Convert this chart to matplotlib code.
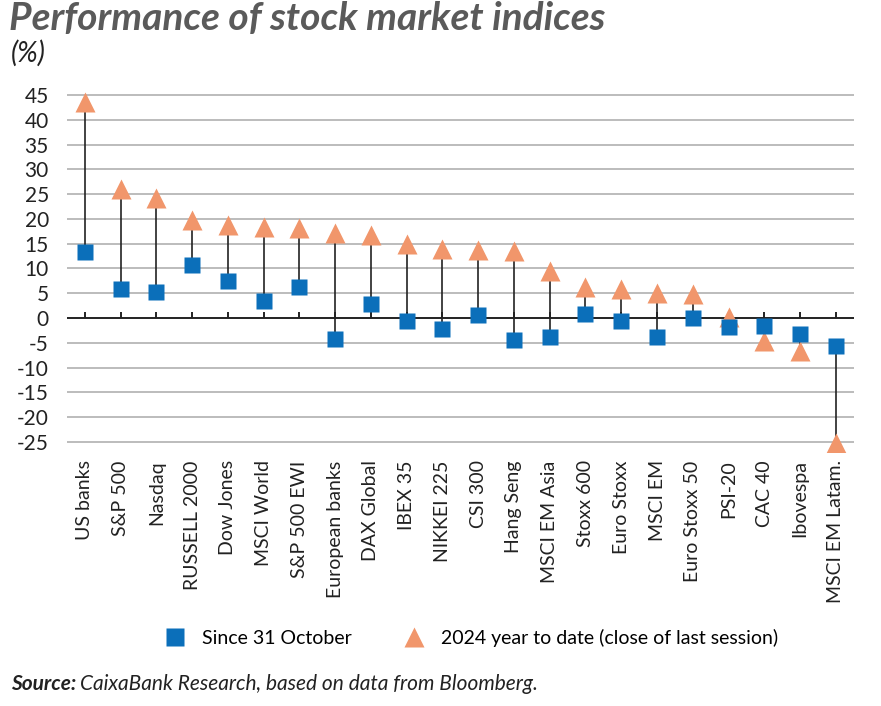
import numpy as np
import matplotlib
matplotlib.use('Agg')
import matplotlib.pyplot as plt
from matplotlib.lines import Line2D

plt.rcParams['font.family'] = ['Lato', 'DejaVu Sans']

indices = ['US banks', 'S&P 500', 'Nasdaq', 'RUSSELL 2000', 'Dow Jones', 'MSCI World',
           'S&P 500 EWI', 'European banks', 'DAX Global', 'IBEX 35', 'NIKKEI 225', 'CSI 300',
           'Hang Seng', 'MSCI EM Asia', 'Stoxx 600', 'Euro Stoxx', 'MSCI EM', 'Euro Stoxx 50',
           'PSI-20', 'CAC 40', 'Ibovespa', 'MSCI EM Latam.']
since_oct = [13.3, 5.8, 5.2, 10.7, 7.4, 3.5, 6.2, -4.3, 2.9, -0.5, -2.3, 0.7,
             -4.5, -3.9, 0.9, -0.5, -3.9, 0.1, -1.8, -1.6, -3.2, -5.7]
ytd_2024 = [43.5, 26.0, 24.2, 19.7, 18.8, 18.3, 18.2, 17.2, 16.8, 15.0, 13.9, 13.8,
            13.5, 9.5, 6.2, 5.8, 5.0, 4.9, 0.2, -4.6, -6.7, -25.2]
yticks = list(range(-25, 50, 5))

blue = '#0b6fba'
orange = '#f1966b'
grey_txt = '#5a5a5a'

fig = plt.figure(figsize=(8.81, 7.06), dpi=100)
ax = fig.add_axes([0.076, 0.3598, 0.893, 0.5198])

x = np.arange(len(indices))
for yv in yticks:
    if yv != 0:
        ax.axhline(yv, color='#b0b0b0', lw=1.2, zorder=0)
ax.axhline(0, color='#222222', lw=1.4, zorder=1)

ax.vlines(x, since_oct, ytd_2024, color='#222222', lw=1.2, zorder=2)
ax.plot(x, ytd_2024, linestyle='none', marker='^', ms=15, color=orange, mec='none', zorder=3)
ax.plot(x, since_oct, linestyle='none', marker='s', ms=12, color=blue, mec='none', zorder=4)

# small ticks above the zero line
ax.vlines(x, 0, 1.2, color='#222222', lw=1.4, zorder=1)

ax.set_xlim(-0.5, len(indices) - 0.5)
ax.set_ylim(-27, 47)
ax.set_yticks(yticks)
ax.set_yticklabels([str(v) for v in yticks], fontsize=15, color='#222222')
ax.set_xticks(x)
ax.set_xticklabels(indices, rotation=90, fontsize=14, color='#222222')
ax.tick_params(axis='y', length=0, pad=13)
ax.tick_params(axis='x', length=0, pad=6)
for s in ax.spines.values():
    s.set_visible(False)

fig.text(0.010, 0.998, 'Performance of stock market indices', fontsize=28, fontweight='bold',
         style='italic', color=grey_txt, va='top')
fig.text(0.012, 0.905, '(%)', fontsize=20, style='italic', color='#222222', va='bottom')

handles = [Line2D([], [], linestyle='none', marker='s', ms=13, color=blue, mec='none'),
           Line2D([], [], linestyle='none', marker='^', ms=15, color=orange, mec='none')]
fig.legend(handles, ['Since 31 October', '2024 year to date (close of last session)'],
           loc='center', bbox_to_anchor=(0.53, 0.097), ncol=2, frameon=False,
           fontsize=14, handletextpad=0.4, columnspacing=2.2)

src = fig.text(0.012, 0.022, 'Source:', fontsize=15, fontweight='bold', style='italic',
               color='#222222')
fig.canvas.draw()
bb = src.get_window_extent().transformed(fig.transFigure.inverted())
fig.text(bb.x1 + 0.005, 0.022, 'CaixaBank Research, based on data from Bloomberg.', fontsize=15,
         style='italic', color='#222222')

fig.savefig('out.png', dpi=100)
